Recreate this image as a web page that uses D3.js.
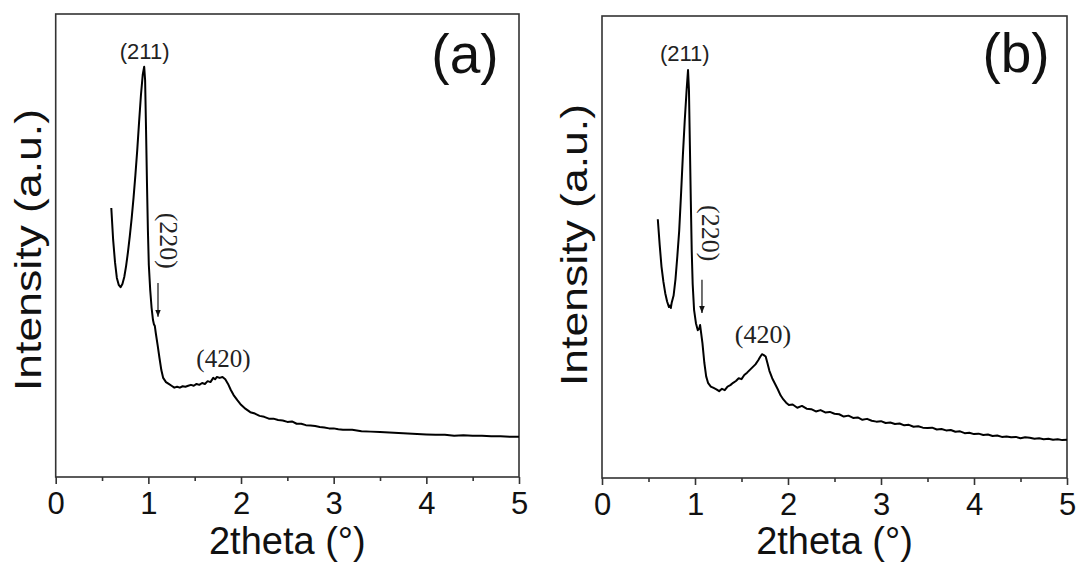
<!DOCTYPE html>
<html>
<head>
<meta charset="utf-8">
<script src="https://cdn.jsdelivr.net/npm/d3@7"></script>
<style>
  body { margin: 0; background: #fff; }
  svg { display: block; }
</style>
</head>
<body>
<div id="chart"></div>
<script>
// XRD patterns, panel (a) and (b): 2theta (deg) vs intensity (a.u., 0-100 of frame height)

var thetaA = [0.60, 0.62, 0.64, 0.66, 0.68, 0.70, 0.72, 0.74, 0.76, 0.78, 0.80, 0.82, 0.84, 0.86, 0.88, 0.90, 0.92, 0.94, 0.955, 0.965, 0.975, 0.985, 0.995, 1.005, 1.02, 1.035, 1.05, 1.06, 1.07, 1.08, 1.10, 1.12, 1.14, 1.16, 1.19, 1.22, 1.25, 1.28, 1.31, 1.34, 1.37, 1.40, 1.43, 1.46, 1.49, 1.52, 1.55, 1.58, 1.61, 1.64, 1.67, 1.70, 1.72, 1.74, 1.77, 1.80, 1.83, 1.86, 1.89, 1.92, 1.96, 2.00, 2.05, 2.10, 2.15, 2.20, 2.25, 2.30, 2.35, 2.40, 2.45, 2.50, 2.55, 2.60, 2.65, 2.70, 2.75, 2.80, 2.85, 2.90, 2.95, 3.00, 3.05, 3.10, 3.20, 3.30, 3.40, 3.50, 3.60, 3.70, 3.80, 3.90, 4.00, 4.10, 4.20, 4.30, 4.40, 4.50, 4.60, 4.70, 4.80, 4.90, 5.00];
var intensityA = [58.1, 51.2, 46.4, 43.0, 41.5, 41.0, 41.7, 43.2, 45.6, 48.6, 52.1, 55.9, 60.3, 65.2, 70.6, 76.7, 82.5, 87.0, 88.6, 85.7, 75.0, 63.5, 53.3, 45.8, 40.4, 36.5, 33.9, 33.0, 32.6, 31.1, 28.5, 25.7, 23.1, 21.4, 20.5, 20.1, 19.7, 19.3, 19.5, 19.3, 19.6, 19.5, 19.7, 19.9, 19.7, 20.1, 19.9, 20.3, 20.1, 20.7, 20.5, 21.4, 21.1, 21.6, 21.4, 21.6, 21.1, 20.1, 18.8, 17.7, 16.6, 15.6, 14.7, 14.0, 13.7, 13.2, 13.0, 12.6, 12.6, 12.3, 12.2, 11.9, 12.0, 11.5, 11.5, 11.2, 11.1, 11.0, 10.8, 10.7, 10.5, 10.5, 10.3, 10.2, 10.2, 9.9, 9.8, 9.7, 9.6, 9.5, 9.4, 9.3, 9.2, 9.1, 9.1, 8.9, 9.0, 8.9, 8.9, 8.8, 8.8, 8.7, 8.7];

var thetaB = [0.60, 0.62, 0.64, 0.66, 0.68, 0.70, 0.72, 0.73, 0.74, 0.75, 0.77, 0.79, 0.81, 0.83, 0.85, 0.87, 0.89, 0.91, 0.925, 0.935, 0.945, 0.955, 0.965, 0.975, 0.99, 1.01, 1.03, 1.045, 1.055, 1.065, 1.08, 1.10, 1.12, 1.14, 1.17, 1.20, 1.23, 1.26, 1.29, 1.32, 1.35, 1.38, 1.41, 1.44, 1.47, 1.50, 1.53, 1.56, 1.59, 1.62, 1.65, 1.68, 1.70, 1.72, 1.74, 1.76, 1.78, 1.80, 1.83, 1.86, 1.89, 1.92, 1.95, 1.98, 2.01, 2.05, 2.10, 2.15, 2.20, 2.25, 2.30, 2.35, 2.40, 2.45, 2.50, 2.55, 2.60, 2.65, 2.70, 2.75, 2.80, 2.85, 2.90, 2.95, 3.00, 3.05, 3.10, 3.15, 3.20, 3.25, 3.30, 3.35, 3.40, 3.45, 3.50, 3.55, 3.60, 3.65, 3.70, 3.75, 3.80, 3.85, 3.90, 3.95, 4.00, 4.05, 4.10, 4.15, 4.20, 4.25, 4.30, 4.35, 4.40, 4.45, 4.50, 4.55, 4.60, 4.65, 4.70, 4.75, 4.80, 4.85, 4.90, 4.95, 5.00];
var intensityB = [56.0, 50.5, 45.7, 42.5, 40.0, 38.2, 37.0, 37.3, 36.8, 38.0, 39.5, 43.0, 48.0, 53.5, 61.5, 70.0, 77.5, 84.0, 88.3, 84.0, 72.0, 60.0, 49.0, 42.0, 36.4, 33.5, 32.0, 32.3, 33.1, 31.5, 29.2, 25.0, 22.0, 20.6, 19.8, 19.5, 19.2, 18.8, 19.3, 19.0, 19.8, 20.1, 20.6, 21.0, 21.6, 21.4, 22.3, 22.8, 23.4, 24.0, 24.6, 25.5, 26.2, 26.8, 26.6, 26.3, 24.8, 23.2, 21.6, 20.4, 19.2, 17.9, 17.0, 16.3, 15.8, 15.9, 15.2, 15.6, 15.0, 14.9, 14.4, 14.7, 14.2, 14.3, 13.9, 13.8, 13.3, 13.5, 13.0, 13.1, 12.6, 12.8, 12.4, 12.2, 12.3, 11.9, 12.0, 11.7, 11.8, 11.4, 11.5, 11.1, 11.2, 10.9, 10.8, 10.9, 10.5, 10.6, 10.3, 10.4, 10.0, 10.1, 9.7, 9.8, 9.5, 9.6, 9.3, 9.4, 9.1, 9.2, 8.9, 9.0, 8.8, 8.9, 8.6, 8.8, 8.7, 8.5, 8.6, 8.4, 8.5, 8.3, 8.4, 8.2, 8.3];

var xTicks = [0, 1, 2, 3, 4, 5];
var xMinorTicks = [0.5, 1.5, 2.5, 3.5, 4.5];

// peak labels: [text, 2theta, intensity]
var peaksA = [["(211)", 0.96, 90.3], ["(420)", 1.81, 23.8]];
var peaksB = [["(211)", 0.89, 90.2], ["(420)", 1.73, 29.2]];
// (220) rotated label and arrow: 2theta, label centre intensity, arrow top, arrow tip
var label220A = [1.22, 51.0, 41.9, 34.6];
var label220B = [1.17, 53.0, 42.9, 35.7];

var svg = d3.select("#chart")
  .append("svg")
  .attr("width", 1080)
  .attr("height", 563);

svg.append("defs").append("marker")
  .attr("id", "arrowHead")
  .attr("viewBox", "0 0 10 10")
  .attr("refX", 10)
  .attr("refY", 5)
  .attr("markerWidth", 7)
  .attr("markerHeight", 7)
  .attr("markerUnits", "userSpaceOnUse")
  .attr("orient", "auto")
  .append("path")
  .attr("d", "M0,1 L10,5 L0,9 Z")
  .attr("fill", "#111");

function drawPanel(p) {
  var width = p.right - p.left;
  var height = p.bottom - p.top;

  var g = svg.append("g")
    .attr("transform", `translate(${p.left}, ${p.top})`);

  var x = d3.scaleLinear().domain([0, 5]).range([0, width]);
  var y = d3.scaleLinear().domain([0, 100]).range([height, 0]);

  // frame
  g.append("rect")
    .attr("width", width)
    .attr("height", height)
    .attr("fill", "none")
    .attr("stroke", "#333")
    .attr("stroke-width", 1.6);

  // minor ticks
  g.append("g")
    .attr("transform", `translate(0,${height})`)
    .call(d3.axisBottom(x).tickValues(xMinorTicks).tickSize(4).tickFormat(""))
    .call(a => a.select(".domain").remove())
    .selectAll("line").attr("stroke", "#333").attr("stroke-width", 1.6);

  // major ticks + labels
  var ax = g.append("g")
    .attr("transform", `translate(0,${height})`)
    .call(d3.axisBottom(x).tickValues(xTicks).tickSize(7).tickPadding(8).tickFormat(d3.format("d")));
  ax.select(".domain").remove();
  ax.selectAll("line").attr("stroke", "#333").attr("stroke-width", 1.6);
  ax.selectAll("text")
    .attr("font-family", "Arial, 'Liberation Sans', sans-serif")
    .attr("font-size", "31px")
    .attr("fill", "#111")
    .attr("dy", "0.71em");

  // curve
  var pts = p.theta.map((t, i) => [t, p.intensity[i]]);
  g.append("path")
    .datum(pts)
    .attr("fill", "none")
    .attr("stroke", "#000")
    .attr("stroke-width", 2)
    .attr("stroke-linejoin", "round")
    .attr("d", d3.line().x(d => x(d[0])).y(d => y(d[1])));

  // (211) label (sans)
  g.append("text")
    .attr("x", x(p.peaks[0][1]))
    .attr("y", y(p.peaks[0][2]))
    .attr("text-anchor", "middle")
    .attr("font-family", "Arial, 'Liberation Sans', sans-serif")
    .attr("font-size", "22px")
    .attr("fill", "#222")
    .text(p.peaks[0][0]);

  // (420) label (serif)
  g.append("text")
    .attr("x", x(p.peaks[1][1]))
    .attr("y", y(p.peaks[1][2]))
    .attr("text-anchor", "middle")
    .attr("font-family", "'Times New Roman', 'Liberation Serif', serif")
    .attr("font-size", p.size420)
    .attr("fill", "#222")
    .text(p.peaks[1][0]);

  // (220) rotated label + arrow
  var l = p.label220;
  g.append("text")
    .attr("transform", `translate(${x(l[0])}, ${y(l[1])}) rotate(90)`)
    .attr("text-anchor", "middle")
    .attr("dy", "0.35em")
    .attr("font-family", "'Times New Roman', 'Liberation Serif', serif")
    .attr("font-size", "26px")
    .attr("fill", "#222")
    .text("(220)");

  g.append("line")
    .attr("x1", x(p.arrowX))
    .attr("x2", x(p.arrowX))
    .attr("y1", y(l[2]))
    .attr("y2", y(l[3]))
    .attr("stroke", "#111")
    .attr("stroke-width", 1.2)
    .attr("marker-end", "url(#arrowHead)");

  // panel letter
  g.append("text")
    .attr("x", p.letterX - p.left)
    .attr("y", p.letterY - p.top)
    .attr("text-anchor", "middle")
    .attr("font-family", "Arial, 'Liberation Sans', sans-serif")
    .attr("font-size", "55px")
    .attr("fill", "#111")
    .text(p.letter);

  // x label
  g.append("text")
    .attr("x", width / 2)
    .attr("y", 554 - p.top)
    .attr("text-anchor", "middle")
    .attr("font-family", "Arial, 'Liberation Sans', sans-serif")
    .attr("font-size", "38px")
    .attr("fill", "#111")
    .text("2theta (\u00b0)");

  // y label
  g.append("text")
    .attr("transform", `translate(${p.yLabelX - p.left}, ${p.yLabelY - p.top}) rotate(-90)`)
    .attr("text-anchor", "middle")
    .attr("font-family", "Arial, 'Liberation Sans', sans-serif")
    .attr("font-size", "36px")
    .attr("textLength", 282)
    .attr("lengthAdjust", "spacingAndGlyphs")
    .attr("fill", "#111")
    .text("Intensity (a.u.)");
}

drawPanel({
  left: 55.7, right: 519, top: 14, bottom: 477,
  theta: thetaA, intensity: intensityA,
  peaks: peaksA, label220: label220A, arrowX: 1.104, size420: "25px",
  letter: "(a)", letterX: 465, letterY: 73,
  yLabelX: 41, yLabelY: 250
});

drawPanel({
  left: 602, right: 1067, top: 16, bottom: 478,
  theta: thetaB, intensity: intensityB,
  peaks: peaksB, label220: label220B, arrowX: 1.075, size420: "26px",
  letter: "(b)", letterX: 1016, letterY: 72,
  yLabelX: 587, yLabelY: 245
});
</script>
</body>
</html>
